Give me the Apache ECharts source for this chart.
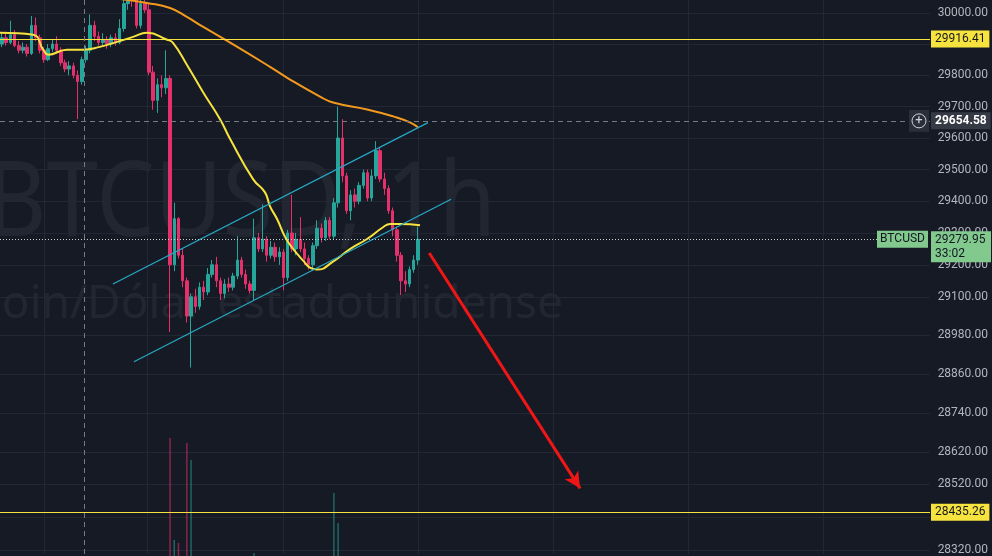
<!DOCTYPE html>
<html><head><meta charset="utf-8">
<script src="https://cdn.jsdelivr.net/npm/echarts@6/dist/echarts.min.js"></script>
<style>html,body{margin:0;padding:0;background:#161a25;}#c{width:992px;height:556px;}</style>
</head><body><div id="c"></div>
<script>
// ---- data (hourly BTCUSD candles: open, close, low, high) ----
const candles = [
[29900,29920,29890,29935],[29920,29905,29895,29940],[29905,29930,29900,29975],[29930,29895,29890,29945],
[29895,29880,29870,29910],[29880,29890,29870,29905],[29890,29870,29860,29900],[29870,29960,29865,29990],
[29960,29920,29910,29985],[29920,29880,29870,29930],[29880,29850,29840,29890],[29850,29885,29845,29900],
[29885,29900,29875,29915],[29900,29880,29870,29925],[29880,29840,29830,29890],[29840,29820,29810,29850],
[29820,29830,29800,29845],[29830,29800,29790,29840],[29800,29780,29660,29815],[29780,29850,29770,29860],
[29850,29880,29840,29895],[29880,29960,29870,29995],[29960,29925,29910,29975],[29925,29905,29895,29940],
[29905,29915,29895,29935],[29915,29900,29885,29925],[29900,29920,29890,29930],[29920,29905,29895,29935],
[29905,29950,29900,29980],[29950,30030,29940,30060],[30030,30060,30010,30080],[30060,30050,30020,30080],
[30050,29960,29950,30070],[29960,30030,29950,30050],[30030,30010,30000,30060],[30010,29810,29800,30030],
[29810,29720,29690,29830],[29720,29770,29680,29790],[29770,29760,29730,29800],[29760,29790,29740,29880],
[29790,29200,28990,29800],[29200,29345,29180,29395],[29345,29230,29220,29350],[29230,29150,29130,29250],
[29150,29040,29020,29160],[29040,29100,28880,29110],[29100,29070,29050,29125],[29070,29130,29060,29145],
[29130,29115,29090,29150],[29115,29170,29105,29190],[29170,29200,29160,29215],[29200,29150,29130,29225],
[29150,29110,29090,29160],[29110,29140,29095,29155],[29140,29130,29115,29160],[29130,29165,29120,29175],
[29165,29215,29155,29290],[29215,29170,29160,29225],[29170,29140,29125,29185],[29140,29120,29110,29150],
[29120,29285,29090,29345],[29285,29250,29240,29300],[29250,29280,29240,29390],[29280,29230,29210,29290],
[29230,29255,29220,29275],[29255,29225,29210,29270],[29225,29240,29200,29255],[29240,29160,29120,29250],
[29160,29300,29150,29310],[29300,29250,29240,29420],[29250,29280,29230,29300],[29280,29250,29240,29350],
[29250,29220,29200,29270],[29220,29200,29185,29230],[29200,29260,29190,29270],[29260,29315,29250,29340],
[29315,29285,29270,29330],[29285,29340,29275,29350],[29340,29290,29280,29350],[29290,29395,29280,29410],
[29395,29600,29380,29700],[29600,29480,29460,29660],[29480,29370,29360,29490],[29370,29420,29340,29435],
[29420,29400,29380,29440],[29400,29450,29390,29460],[29450,29490,29440,29500],[29490,29410,29400,29500],
[29410,29480,29400,29500],[29480,29560,29470,29590],[29560,29470,29460,29570],[29470,29440,29420,29490],
[29440,29370,29360,29450],[29370,29310,29290,29380],[29310,29230,29210,29320],[29230,29150,29105,29240],
[29150,29140,29115,29180],[29140,29185,29130,29195],[29185,29215,29175,29230],[29215,29279.95,29200,29320]
];
// moving averages read at sample points [candle index, price]
const maFast = [[-0.5,29936],[7.4,29930],[9.8,29882],[11,29866],[15.5,29882],[19.3,29882],[23.3,29891],
[27.4,29907],[31.2,29923],[34.5,29936],[39.3,29914],[40.7,29904],[44,29834],[47.9,29745],[51.9,29660],
[54.3,29597],[59.8,29469],[62.6,29428],[63.8,29384],[65.5,29343],[67.4,29287],[69.3,29250],[71.7,29213],
[73.3,29191],[75,29185],[78.8,29210],[82.9,29250],[86.9,29281],[90.7,29318],[92.4,29328],[94.8,29328],[99.5,29324]];
const maSlow = [[28.1,30045],[34.5,30032],[40,30016],[44,29987],[47.9,29955],[56,29891],[63.8,29827],
[67.9,29792],[75.7,29732],[78.8,29713],[86.9,29691],[93.1,29669],[97.1,29650],[99,29634]];
// visible volume bars [candle index, volume]
const volumes = [[40,2412],[41,1378],[42,1348],[44,2361],[45,2189],[60,1246],[79,1854],[80,1550]];
// drawings
const channelUpper = [[26.4,29140],[101.4,29649]];
const channelLower = [[31.4,28898],[106.9,29406]];
const arrowPath = [[101.7,29237],[137.6,28508]];
const levels = [29916.41, 28435.26];
const crossX = 19.5, crossY = 29654.58;
const lastPrice = 29279.95, countdown = '33:02', symbol = 'BTCUSD';
const yTicks = [30000,29900,29800,29700,29600,29500,29400,29300,29200,29100,28980,28860,28740,28620,28520,28420,28320];
const xGridTicks = [10,34.5,66.9,99,131.2,163.3,195.5];
const watermark = ['BTCUSD, 1h', 'Bitcoin/Dólar estadounidense'];

const UP = '#26a69a', DOWN = '#e5306b', YEL = '#f7e33e';
const xMin = -0.48, xMax = 220.9;
const FONT = 'Roboto, sans-serif';
const WFONT = '"Noto Sans", sans-serif';

const chart = echarts.init(document.getElementById('c'), null, {renderer:'canvas'});
const arrowStyle = {color:'#f01616', width:3, type:'solid'};
const option = {
  backgroundColor: '#161a25',
  animation: false,
  grid: [
    {left:0, right:62, top:0, bottom:0},
    {left:0, right:62, top:380, bottom:0}
  ],
  xAxis: [
    {type:'value', gridIndex:0, min:xMin, max:xMax, axisLine:{show:false}, axisLabel:{show:false},
     axisTick:{show:false, customValues:xGridTicks},
     splitLine:{show:true, lineStyle:{color:'#232733', width:1}}},
    {type:'value', gridIndex:1, min:xMin, max:xMax, show:false, splitLine:{show:false}}
  ],
  yAxis: [
    {type:'log', gridIndex:0, position:'right', min:28307.8, max:30041.7,
     axisLine:{show:false}, axisTick:{show:false, customValues:yTicks},
     axisLabel:{customValues:yTicks, align:'right', margin:58, color:'#b2b5be', fontSize:12, fontFamily:FONT,
       formatter:v=>Number(v).toFixed(2)},
     splitLine:{show:true, lineStyle:{color:'#232733', width:1}}},
    {type:'value', gridIndex:1, min:1216, max:2999, show:false, splitLine:{show:false}}
  ],
  series: [
    {type:'bar', xAxisIndex:1, yAxisIndex:1, barWidth:1.5, z:1, clip:true,
     data: volumes.map(([i,v]) => ({value:[i,v], itemStyle:{color: candles[i][1] >= candles[i][0] ? 'rgba(38,166,154,0.55)' : 'rgba(229,48,107,0.55)'}}))},
    {type:'candlestick', xAxisIndex:0, yAxisIndex:0, barWidth:3, z:3,
     data: candles.map((c,i)=>[i, c[0], c[1], c[2], c[3]]),
     itemStyle:{color:UP, color0:DOWN, borderColor:UP, borderColor0:DOWN, borderWidth:1}},
    {type:'line', data:maSlow, smooth:true, symbol:'none', z:4, lineStyle:{color:'#f39a1e', width:2}},
    {type:'line', data:maFast, smooth:true, symbol:'none', z:4, lineStyle:{color:YEL, width:2}},
    {type:'line', data:channelUpper, symbol:'none', z:4, lineStyle:{color:'#27a9c6', width:1.2}},
    {type:'line', data:channelLower, symbol:'none', z:4, lineStyle:{color:'#27a9c6', width:1.2}},
    {type:'line', data:[], z:5, markLine:{silent:true, symbol:'none', animation:false, data:[
      ...levels.map(v=>({yAxis:v, lineStyle:{color:YEL, width:1, type:'solid'},
        label:{show:true, position:'end', distance:1, formatter:v.toFixed(2), backgroundColor:YEL, color:'#131722',
          fontSize:12, fontFamily:FONT, padding:[3,4,2,4]}})),
      {yAxis:crossY, lineStyle:{color:'#787b86', width:1, type:[5,4]},
        label:{show:true, position:'end', distance:1, formatter:crossY.toFixed(2), backgroundColor:'#363a45', color:'#ffffff',
          fontWeight:'bold', fontSize:12, fontFamily:FONT, padding:[3,4,2,4]}},
      {xAxis:crossX, lineStyle:{color:'#787b86', width:1, type:[5,4]}, label:{show:false}},
      {yAxis:lastPrice, lineStyle:{color:'#c9d3cc', width:1, type:[1,2]}, label:{show:false}},
      [{coord:arrowPath[0], symbol:'none', lineStyle:arrowStyle}, {coord:arrowPath[1], symbol:'arrow', symbolSize:[12,16], lineStyle:arrowStyle}]
    ]}}
  ]
};
chart.setOption(option);

const gx = chart.convertToPixel({xAxisIndex:0}, xMax);
const yc = chart.convertToPixel({yAxisIndex:0}, crossY);
const yl = chart.convertToPixel({yAxisIndex:0}, lastPrice);
const GREEN = '#82c98e';
chart.setOption({graphic:[
  {type:'text', z:-1, x:496, y:206, scaleX:0.89, style:{text:watermark[0], x:0, y:0, align:'right', verticalAlign:'middle',
    font:'104px ' + WFONT, fill:'rgba(255,255,255,0.055)'}},
  {type:'text', z:-1, x:563, y:305, style:{text:watermark[1], x:0, y:0, align:'right', verticalAlign:'middle',
    font:'46px ' + WFONT, fill:'rgba(255,255,255,0.055)'}},
  {type:'rect', z:10, shape:{x:gx-21, y:yc-11, width:20, height:22}, style:{fill:'#2a2e39'}},
  {type:'circle', z:11, shape:{cx:gx-11, cy:yc, r:7}, style:{fill:'none', stroke:'#d1d4dc', lineWidth:1}},
  {type:'text', z:12, style:{text:'+', x:gx-11, y:yc, align:'center', verticalAlign:'middle', font:'13px ' + FONT, fill:'#d1d4dc'}},
  {type:'rect', z:10, shape:{x:gx-53, y:yl-8.5, width:51, height:17}, style:{fill:GREEN}},
  {type:'text', z:11, style:{text:symbol, x:gx-27.5, y:yl, align:'center', verticalAlign:'middle', font:'12px ' + FONT, fill:'#131722'}},
  {type:'rect', z:10, shape:{x:gx+1, y:yl-8, width:60, height:31}, style:{fill:GREEN}},
  {type:'text', z:11, style:{text:lastPrice.toFixed(2), x:gx+5, y:yl+1, align:'left', verticalAlign:'middle', font:'12px ' + FONT, fill:'#131722'}},
  {type:'text', z:11, style:{text:countdown, x:gx+5, y:yl+15, align:'left', verticalAlign:'middle', font:'12px ' + FONT, fill:'#131722'}}
]});
</script></body></html>
